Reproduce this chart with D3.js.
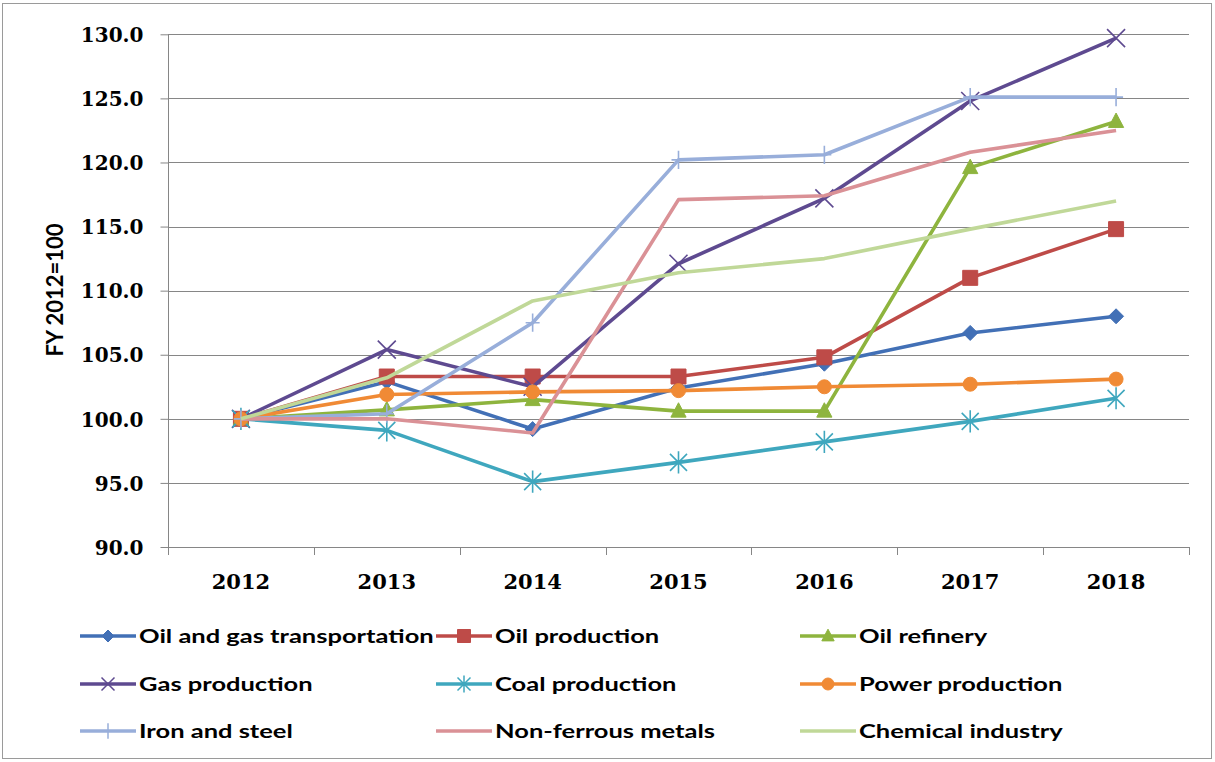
<!DOCTYPE html>
<html><head><meta charset="utf-8">
<script src="https://cdn.jsdelivr.net/npm/d3@7"></script>
<style>body{margin:0;background:#fff}</style>
</head><body><svg id="c" width="1215" height="762"></svg>
<script>
const years = ["2012","2013","2014","2015","2016","2017","2018"];
const yTicks = [90,95,100,105,110,115,120,125,130];
const seriesNames = ["Oil and gas transportation","Oil production","Oil refinery","Gas production","Coal production","Power production","Iron and steel","Non-ferrous metals","Chemical industry"];
const oilGasTransport = [100,102.9,99.2,102.4,104.3,106.7,108.0];
const oilProduction   = [100,103.3,103.3,103.3,104.8,111.0,114.8];
const oilRefinery     = [100,100.7,101.5,100.6,100.6,119.6,123.2];
const gasProduction   = [100,105.4,102.5,112.1,117.2,124.8,129.7];
const coalProduction  = [100,99.1,95.1,96.6,98.2,99.8,101.6];
const powerProduction = [100,101.9,102.1,102.2,102.5,102.7,103.1];
const ironSteel       = [100,100.4,107.5,120.2,120.6,125.1,125.1];
const nonFerrous      = [100,100.0,98.9,117.1,117.4,120.8,122.5];
const chemical        = [100,103.2,109.2,111.4,112.5,114.8,117.0];
const yTitle = "FY 2012=100";

const seriesValues = [oilGasTransport,oilProduction,oilRefinery,gasProduction,coalProduction,powerProduction,ironSteel,nonFerrous,chemical];
const colors = ["#4270B6","#BE4B48","#8EB43E","#5E4A90","#3FA7BE","#F08A35","#98AEDA","#DA9196","#C0D898"];
const markers = ["diamond","square","triangle","x","asterisk","circle","plus","none","none"];

const svg = d3.select("#c");
svg.append("rect").attr("x",0).attr("y",0).attr("width",1215).attr("height",762).attr("fill","#fff");
svg.append("rect").attr("x",2.5).attr("y",3.5).attr("width",1209).attr("height",755)
  .attr("fill","none").attr("stroke","#9a9a9a").attr("stroke-width",1);

const L = 168, R = 1189, T = 34.3, B = 547;
const x = d3.scaleBand().domain(years).range([L, R]).padding(0);
const cx = d => x(d) + x.bandwidth()/2;
const y = d3.scaleLinear().domain([90,130]).range([B, T]);
const grid = "#868686";

// gridlines
svg.append("g").selectAll("line").data(yTicks).join("line")
  .attr("x1", L).attr("x2", R).attr("y1", d => Math.round(y(d))+0.5).attr("y2", d => Math.round(y(d))+0.5)
  .attr("stroke", grid).attr("stroke-width", 1);

// y axis
const yAxis = svg.append("g").attr("transform", `translate(${L+0.5},0)`)
  .call(d3.axisLeft(y).tickValues(yTicks).tickFormat(d3.format(".1f")).tickSize(8).tickPadding(0));
yAxis.select(".domain").attr("stroke", grid).attr("d", `M0,${T}V${B}`);
yAxis.selectAll(".tick line").attr("stroke", grid);
yAxis.selectAll(".tick text").attr("x", -25).attr("dy","0.36em")
  .attr("font-family","'DejaVu Serif', serif").attr("font-weight","bold").attr("font-size","20px").attr("fill","#000");

// x axis
const xg = svg.append("g");
xg.append("line").attr("x1", L).attr("x2", R).attr("y1", Math.round(B)+0.5).attr("y2", Math.round(B)+0.5).attr("stroke", grid);
xg.selectAll("line.t").data(years.concat(["end"])).join("line").attr("class","t")
  .attr("x1", d => Math.round(d==="end" ? x.range()[1] : x(d))+0.5)
  .attr("x2", d => Math.round(d==="end" ? x.range()[1] : x(d))+0.5)
  .attr("y1", B).attr("y2", B+8).attr("stroke", grid);
xg.selectAll("text").data(years).join("text")
  .attr("x", d => cx(d)).attr("y", 589).attr("text-anchor","middle")
  .attr("font-family","'DejaVu Serif', serif").attr("font-weight","bold").attr("font-size","21px").attr("fill","#000")
  .text(d => d);

// y title
svg.append("text").attr("transform","translate(63,290) rotate(-90)").attr("text-anchor","middle")
  .attr("font-family","Lato, sans-serif").attr("font-weight","bold").attr("font-size","22px").attr("fill","#000")
  .text(yTitle);

function markerPath(type, r){
  switch(type){
    case "diamond": return `M0,${-r}L${r},0L0,${r}L${-r},0Z`;
    case "square": return `M${-r},${-r}H${r}V${r}H${-r}Z`;
    case "triangle": return `M0,${-r*1.05}L${r*0.95},${r*0.75}L${-r*0.95},${r*0.75}Z`;
    case "circle": return d3.symbol(d3.symbolCircle, Math.PI*r*r)();
    case "x": return `M${-r},${-r}L${r},${r}M${r},${-r}L${-r},${r}`;
    case "asterisk": return `M${-r},${-r}L${r},${r}M${r},${-r}L${-r},${r}M0,${-r*1.3}V${r*1.3}`;
    case "plus": return `M0,${-r*1.3}V${r*1.3}M${-r},0H${r}`;
  }
  return "";
}
const filled = t => ["diamond","square","triangle","circle"].includes(t);
const mSize = {diamond:7.5, square:7.5, triangle:8, circle:7, x:9, asterisk:8.5, plus:7};
const mSizeLeg = {diamond:6, square:6.5, triangle:6.5, circle:6, x:6.5, asterisk:6.5, plus:6};

const line = d3.line().x((d,i) => cx(years[i])).y(d => y(d));
const plot = svg.append("g");
seriesValues.forEach((vals, si) => {
  const g = plot.append("g");
  g.append("path").attr("d", line(vals)).attr("fill","none").attr("stroke", colors[si])
    .attr("stroke-width", 3.6).attr("stroke-linejoin","round");
  const t = markers[si];
  if (t !== "none") {
    g.selectAll("path.m").data(vals).join("path").attr("class","m")
      .attr("transform", (d,i) => `translate(${cx(years[i])},${y(d)})`)
      .attr("d", markerPath(t, mSize[t]))
      .attr("fill", filled(t) ? colors[si] : "none")
      .attr("stroke", colors[si]).attr("stroke-width", filled(t) ? 1 : 1.6);
  }
});

// legend
const legX = [80, 436, 800];
const legY = [636, 684, 731];
const leg = svg.append("g");
let sx = 1;
seriesNames.forEach((name, i) => {
  const col = i % 3, row = Math.floor(i / 3);
  const x0 = legX[col], y0 = legY[row];
  const g = leg.append("g").attr("transform", `translate(${x0},${y0})`);
  g.append("line").attr("x1",0).attr("x2",56).attr("y1",0).attr("y2",0).attr("stroke", colors[i]).attr("stroke-width",3.6);
  const t = markers[i];
  if (t !== "none") {
    g.append("path").attr("transform","translate(28,0)").attr("d", markerPath(t, mSizeLeg[t]))
      .attr("fill", filled(t) ? colors[i] : "none").attr("stroke", colors[i]).attr("stroke-width", filled(t)?1:1.5);
  }
  const tx = g.append("text").attr("transform","translate(59,0)").attr("dy","0.36em")
    .attr("font-family","Lato, sans-serif").attr("font-weight","bold").attr("font-size","19px").attr("fill","#000")
    .text(name);
  if (i === 0) { sx = 295 / tx.node().getComputedTextLength(); }
  tx.attr("transform", `translate(59,0) scale(${sx},1)`);
});
</script></body></html>
